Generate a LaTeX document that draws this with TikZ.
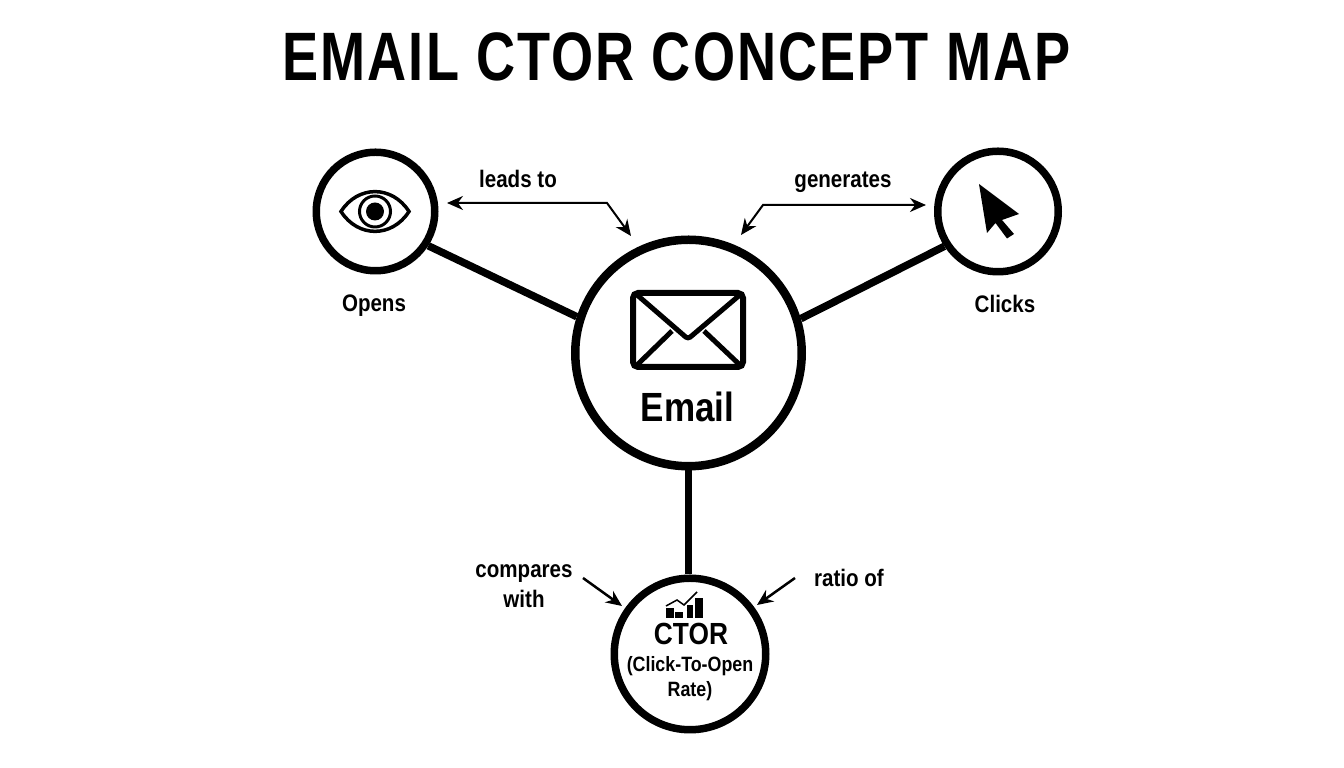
\documentclass[tikz,border=0pt]{standalone}
\usepackage{fontspec}
\setmainfont[FakeStretch=0.86]{Liberation Sans}
\newfontfamily\titlefont[FakeStretch=0.79,LetterSpace=3]{Liberation Sans}
\usetikzlibrary{arrows.meta}
\tikzset{
  bubble/.style={draw=black,fill=white,circle,inner sep=0pt},
  link/.style={line width=0.075cm},
  pointer/.style={line width=0.025cm,-{Stealth[length=0.16cm,width=0.14cm]}},
  twoway/.style={line width=0.02cm,{Stealth[length=0.16cm,width=0.14cm]}-{Stealth[length=0.16cm,width=0.14cm]}},
  label/.style={font=\fontsize{6.8}{8}\selectfont\bfseries,align=center}
}
\begin{document}
\begin{tikzpicture}
\useasboundingbox (0,0) rectangle (13.44,7.68);

\node [font=\titlefont\fontsize{19.5}{24}\selectfont\bfseries] (title) at (6.765,7.11) {EMAIL CTOR CONCEPT MAP};

\node [bubble,line width=0.075cm,minimum size=1.185cm] (opens) at (3.755,5.565) {};
\node [bubble,line width=0.075cm,minimum size=1.205cm] (clicks) at (9.98,5.565) {};
\node [bubble,line width=0.085cm,minimum size=2.265cm] (email) at (6.885,4.15) {};
\node [bubble,line width=0.075cm,minimum size=1.515cm] (ctor) at (6.90,1.14) {};

\draw [link] (opens.-33.7) -- (email.162.5);
\draw [link] (clicks.213.3) -- (email.17.9);
\draw [link] (email.south) -- (email.south |- ctor.north);

% eye
\draw [line width=0.035cm] (3.41,5.565) .. controls (3.58,5.83) and (3.92,5.83) .. (4.09,5.565) .. controls (3.92,5.30) and (3.58,5.30) .. cycle;
\draw [line width=0.03cm] (3.75,5.565) circle (0.155);
\fill (3.75,5.565) circle (0.09);

% cursor
\fill (9.79,5.84) -- (10.19,5.54) -- (10.02,5.48) -- (10.14,5.34) -- (10.07,5.295) -- (9.955,5.45) -- (9.87,5.35) -- cycle;

% envelope
\draw [line width=0.06cm,rounded corners=0.05cm] (6.33,4.75) rectangle (7.43,4.01);
\draw [line width=0.05cm,rounded corners=0.03cm] (6.36,4.74) -- (6.88,4.29) -- (7.41,4.74);
\draw [line width=0.05cm] (6.36,4.02) -- (6.72,4.37);
\draw [line width=0.05cm] (7.41,4.02) -- (7.04,4.37);

% chart
\foreach \xa/\xb/\yt in {6.66/6.735/1.60, 6.75/6.83/1.56, 6.865/6.93/1.63, 6.95/7.025/1.70}
  \fill (\xa,1.50) rectangle (\xb,\yt);
\draw [line width=0.015cm] (6.66,1.62) -- (6.77,1.68) -- (6.84,1.63) -- (6.97,1.76);

\node [font=\fontsize{11.6}{14}\selectfont\bfseries] (emailtxt) at (6.875,3.61) {Email};
\node [font=\fontsize{8.7}{10}\selectfont\bfseries] (ctortxt) at (6.91,1.34) {CTOR};
\node [font=\fontsize{5.9}{7.1}\selectfont\bfseries,align=center] (ratetxt) at (6.90,0.89) {(Click-To-Open\\Rate)};

\node [label] (openstxt) at (3.74,4.62) {Opens};
\node [label] (clickstxt) at (10.05,4.64) {Clicks};
\node [label] (leadstxt) at (5.18,5.89) {leads to};
\node [label] (gentxt) at (8.43,5.86) {generates};
\node [label,font=\fontsize{6.8}{8.5}\selectfont\bfseries] (comptxt) at (5.24,1.82) {compares\\with};
\node [label] (ratiotxt) at (8.49,1.90) {ratio of};

\coordinate (leadsa) at (4.47,5.65);
\coordinate (leadsb) at (6.07,5.65);
\coordinate (leadsc) at (6.31,5.32);
\draw [twoway] (leadsa) -- (leadsb) -- (leadsc);

\coordinate (gena) at (9.26,5.63);
\coordinate (genb) at (7.63,5.63);
\coordinate (genc) at (7.41,5.33);
\draw [twoway] (gena) -- (genb) -- (genc);

\coordinate (compa) at (5.83,1.90);
\coordinate (compb) at (6.22,1.62);
\draw [pointer] (compa) -- (compb);

\coordinate (ratioa) at (7.95,1.90);
\coordinate (ratiob) at (7.57,1.63);
\draw [pointer] (ratioa) -- (ratiob);
\end{tikzpicture}
\end{document}
